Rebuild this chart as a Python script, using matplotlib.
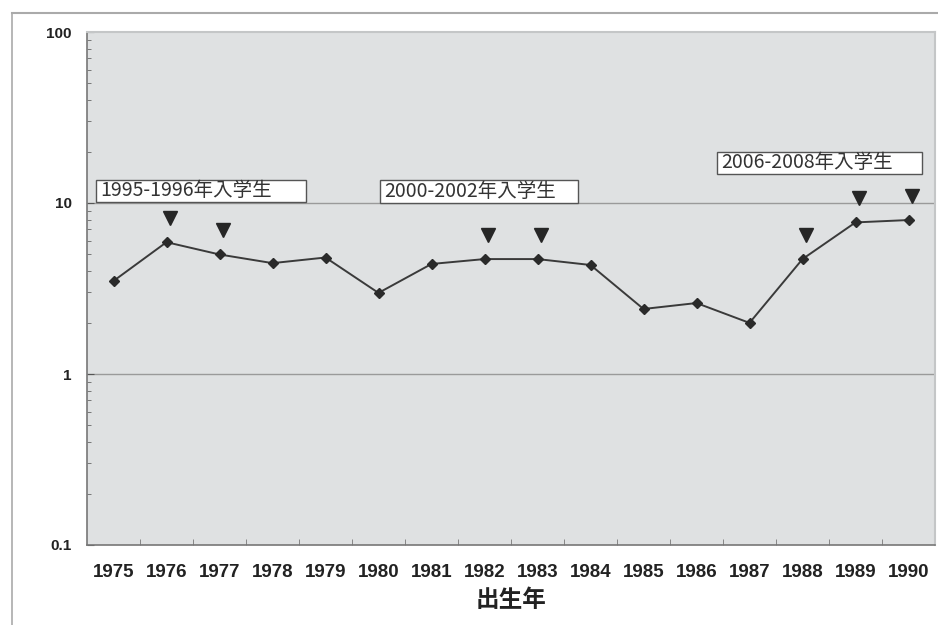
import matplotlib
matplotlib.use("Agg")
import matplotlib.pyplot as plt
import matplotlib.transforms as mtransforms
from matplotlib.patches import Rectangle
from matplotlib.lines import Line2D
from matplotlib.ticker import LogLocator, NullFormatter, FixedLocator, FixedFormatter

plt.rcParams['font.family'] = ['Noto Sans CJK JP', 'DejaVu Sans']

# birth year categories and rates
years = ['1975', '1976', '1977', '1978', '1979', '1980', '1981', '1982',
         '1983', '1984', '1985', '1986', '1987', '1988', '1989', '1990']
values = [3.5, 5.9, 5.0, 4.45, 4.8, 2.98, 4.4, 4.7,
          4.7, 4.34, 2.4, 2.6, 1.99, 4.7, 7.7, 7.95]

# cohorts marked with arrows
marked_years = ['1976', '1977', '1982', '1983', '1988', '1989', '1990']

# enrolment period labels
period_labels = ['1995-1996年入学生', '2000-2002年入学生', '2006-2008年入学生']

y_ticks = [0.1, 1, 10, 100]
y_tick_labels = ['0.1', '1', '10', '100']
x_label = '出生年'

fig = plt.figure(figsize=(9.38, 6.25), dpi=100)
fig.patch.set_facecolor('white')

# outer frame lines
fig.add_artist(Line2D([12 / 938, 12 / 938], [0, 1 - 13 / 625],
                      transform=fig.transFigure, color='#aaaaaa', lw=1.2))
fig.add_artist(Line2D([12 / 938, 1], [1 - 13 / 625, 1 - 13 / 625],
                      transform=fig.transFigure, color='#aaaaaa', lw=1.5))

ax = fig.add_axes([87 / 938, 80 / 625, 848 / 938, 513 / 625])
ax.set_facecolor('#dfe1e2')

x = list(range(len(years)))
ax.set_yscale('log')
ax.set_ylim(0.1, 100)
ax.set_xlim(-0.5, len(years) - 0.5)

# horizontal grid at decades
for g in [1, 10]:
    ax.axhline(g, color='#9a9a9a', lw=1.0, zorder=1)

ax.plot(x, values, color='#3a3a3a', lw=1.4, marker='D', markersize=5,
        markerfacecolor='#2a2a2a', markeredgecolor='#2a2a2a', zorder=3)

# arrows above marked cohorts
arrow_tr = mtransforms.offset_copy(ax.transData, fig=fig, x=3, y=24, units='dots')
mx = [years.index(yv) for yv in marked_years]
my = [values[i] for i in mx]
ax.plot(mx, my, linestyle='none', marker='v', markersize=10.5,
        color='#262626', transform=arrow_tr, zorder=4)

# period label boxes (axes fraction coordinates)
boxes = [(0.0103, 0.669, 0.248, 0.0425),
         (0.3455, 0.667, 0.2335, 0.0445),
         (0.7426, 0.7226, 0.2417, 0.0441)]
for (bx, by, bw, bh), label in zip(boxes, period_labels):
    ax.add_patch(Rectangle((bx, by), bw, bh, transform=ax.transAxes,
                           facecolor='white', edgecolor='#555555', lw=1.0, zorder=5))
    ax.text(bx + 0.005, by + bh / 2, label, transform=ax.transAxes,
            ha='left', va='center', fontsize=14, color='#333333', zorder=6)

# y axis
ax.yaxis.set_major_locator(FixedLocator(y_ticks))
ax.yaxis.set_major_formatter(FixedFormatter(y_tick_labels))
ax.yaxis.set_minor_locator(LogLocator(base=10, subs=range(2, 10)))
ax.yaxis.set_minor_formatter(NullFormatter())
ax.tick_params(axis='y', which='major', direction='in', length=5, pad=11,
               labelsize=11, colors='#555555', labelcolor='#222222')
ax.tick_params(axis='y', which='minor', direction='in', length=3, colors='#666666')
for lab in ax.get_yticklabels():
    lab.set_fontweight('bold')
    lab.set_family(['Liberation Sans', 'DejaVu Sans'])

# x axis: labels centred on categories, ticks at boundaries
ax.set_xticks(x)
ax.set_xticklabels(years)
ax.set_xticks([i + 0.5 for i in x[:-1]], minor=True)
ax.tick_params(axis='x', which='major', length=0, pad=14, labelsize=13.5,
               labelcolor='#222222')
ax.tick_params(axis='x', which='minor', direction='in', length=4, colors='#777777')
for lab in ax.get_xticklabels():
    lab.set_fontweight('bold')
    lab.set_family(['Liberation Sans', 'DejaVu Sans'])

ax.set_xlabel(x_label, fontsize=17, fontweight='bold', color='#222222', labelpad=5)

for side in ['left', 'bottom']:
    ax.spines[side].set_color('#777777')
    ax.spines[side].set_linewidth(1.2)
for side in ['top', 'right']:
    ax.spines[side].set_color('#c4c6c7')
    ax.spines[side].set_linewidth(1.5)

fig.savefig('out.png', dpi=100)
